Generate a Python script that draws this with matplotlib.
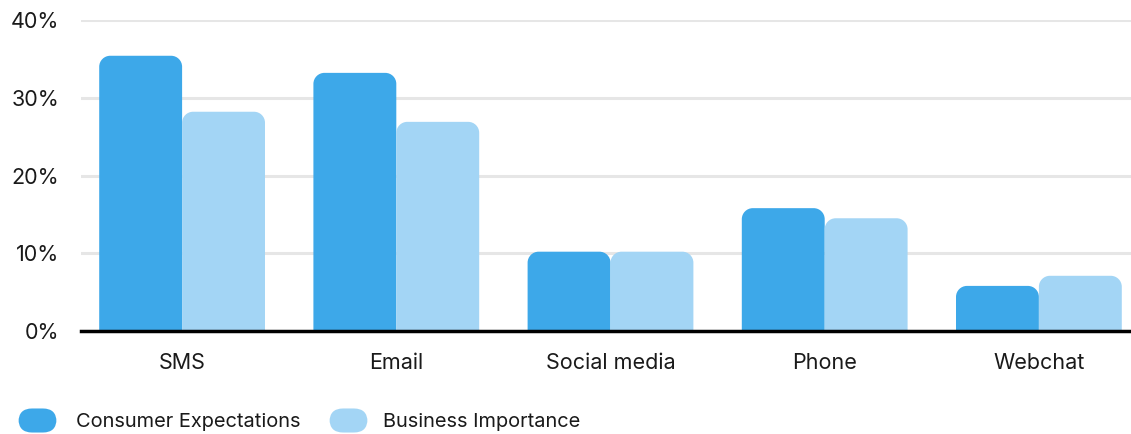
import matplotlib.pyplot as plt
from matplotlib.path import Path
from matplotlib.patches import PathPatch, FancyBboxPatch
import numpy as np

plt.rcParams['font.family'] = ['Inter', 'DejaVu Sans']

channels = ['SMS', 'Email', 'Social media', 'Phone', 'Webchat']
consumer = [35.4, 33.2, 10.2, 15.8, 5.8]
business = [28.2, 26.9, 10.2, 14.5, 7.1]
series_names = ['Consumer Expectations', 'Business Importance']
y_ticks = [0, 10, 20, 30, 40]

DARK = '#3da8e9'
LIGHT = '#a3d5f5'

W, H = 1131, 434
fig = plt.figure(figsize=(W / 100, H / 100), dpi=100)
ax = fig.add_axes([81 / W, (H - 331) / H, 1 - 81 / W, (331 - 20) / H])

x = np.arange(len(channels))
bw = 0.387
b1 = ax.bar(x - bw / 2, consumer, bw, color=DARK)
b2 = ax.bar(x + bw / 2, business, bw, color=LIGHT)

ax.set_xlim(-0.472, 4.43)
ax.set_ylim(0, 40)


def round_top(rect, r_px=11):
    # swap a plain bar for one with rounded upper corners
    x0, y0 = rect.get_x(), rect.get_y()
    w, h = rect.get_width(), rect.get_height()
    px_x = (ax.get_xlim()[1] - ax.get_xlim()[0]) / (W - 81)
    px_y = 40 / (331 - 20)
    rx, ry = r_px * px_x, min(r_px * px_y, h)
    k = 0.5523
    verts = [(x0, y0), (x0, y0 + h - ry),
             (x0, y0 + h - ry + k * ry), (x0 + rx - k * rx, y0 + h), (x0 + rx, y0 + h),
             (x0 + w - rx, y0 + h),
             (x0 + w - rx + k * rx, y0 + h), (x0 + w, y0 + h - ry + k * ry), (x0 + w, y0 + h - ry),
             (x0 + w, y0), (x0, y0)]
    codes = [Path.MOVETO, Path.LINETO,
             Path.CURVE4, Path.CURVE4, Path.CURVE4,
             Path.LINETO,
             Path.CURVE4, Path.CURVE4, Path.CURVE4,
             Path.LINETO, Path.CLOSEPOLY]
    patch = PathPatch(Path(verts, codes), facecolor=rect.get_facecolor(),
                      edgecolor='none', zorder=3)
    rect.remove()
    ax.add_patch(patch)


for r in list(b1) + list(b2):
    round_top(r)

ax.set_yticks(y_ticks)
ax.set_yticklabels([f'{v}%' for v in y_ticks], fontsize=15.5, color='#1a1a1a')
ax.set_xticks(x)
ax.set_xticklabels(channels, fontsize=15.5, color='#1a1a1a')
ax.tick_params(axis='both', length=0)
ax.tick_params(axis='y', pad=15.5)
ax.tick_params(axis='x', pad=16)

for v in y_ticks[1:]:
    ax.axhline(v, color='#e6e6e6', lw=2.2, zorder=1)
for s in ['top', 'right', 'left']:
    ax.spines[s].set_visible(False)
ax.spines['bottom'].set_linewidth(2.5)
ax.spines['bottom'].set_zorder(4)

# legend swatches and labels
for sx, col, name, tx in [(19, DARK, series_names[0], 76), (330, LIGHT, series_names[1], 383)]:
    fig.patches.append(FancyBboxPatch(((sx + 4) / W, (H - 428) / H), 29 / W, 15 / H,
                                      boxstyle='round,pad=0.004,rounding_size=0.012',
                                      mutation_aspect=W / H,
                                      transform=fig.transFigure, facecolor=col,
                                      edgecolor='none'))
    fig.text(tx / W, (H - 422) / H, name, fontsize=14.4, va='center', color='#1a1a1a')

fig.savefig('out.png', dpi=100)
